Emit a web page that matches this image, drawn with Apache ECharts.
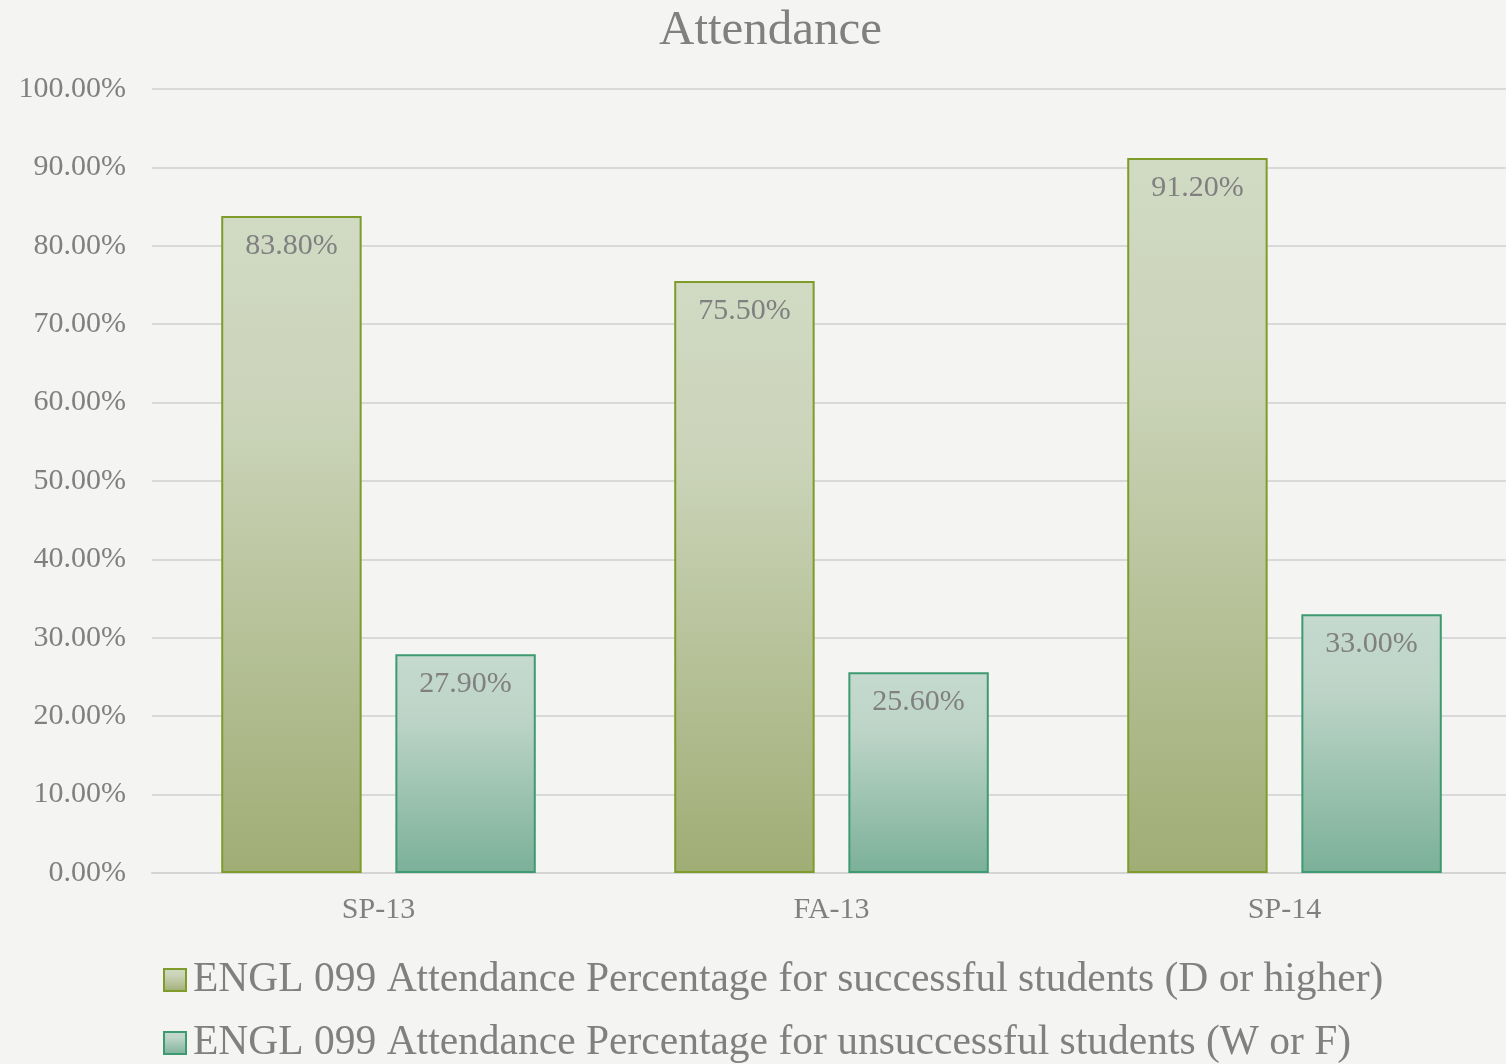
<!DOCTYPE html>
<html>
<head>
<meta charset="utf-8">
<script src="https://cdn.jsdelivr.net/npm/echarts@6/dist/echarts.min.js"></script>
<style>
  html, body { margin: 0; padding: 0; background: #f4f4f2; overflow: hidden; }
  #chart { width: 1520px; height: 1064px; }
</style>
</head>
<body>
<div id="chart"></div>
<script>
// Terms and attendance rates (percent)
const categories = ['SP-13', 'FA-13', 'SP-14'];
const successful = [83.8, 75.5, 91.2];
const unsuccessful = [27.9, 25.6, 33.0];
const seriesNames = [
  'ENGL 099 Attendance Percentage for successful students (D or higher)',
  'ENGL 099 Attendance Percentage for unsuccessful students (W or F)'
];
const yTicks = [0, 10, 20, 30, 40, 50, 60, 70, 80, 90, 100];

const FONT = '"Liberation Serif", "DejaVu Serif", serif';
const TEXT = '#808080';

function grad(top, mid, bottom) {
  return new echarts.graphic.LinearGradient(0, 0, 0, 1, [
    { offset: 0, color: top },
    { offset: 0.3, color: mid },
    { offset: 1, color: bottom }
  ]);
}

const label = {
  show: true,
  position: 'insideTop',
  distance: 15,
  color: TEXT,
  fontFamily: FONT,
  fontSize: 30,
  formatter: p => p.value.toFixed(2) + '%'
};

// one legend block per series, stacked as two rows
function legendRow(name, top) {
  return {
    left: 158,
    top: top,
    icon: 'rect',
    itemWidth: 22,
    itemHeight: 22,
    textStyle: { color: TEXT, fontFamily: FONT, fontSize: 41.5, padding: [0, 0, 0, 2] },
    data: [name]
  };
}

const chart = echarts.init(document.getElementById('chart'));
chart.setOption({
  backgroundColor: '#f4f4f2',
  animation: false,
  title: {
    text: 'Attendance',
    left: 654,
    top: 2,
    textStyle: { color: TEXT, fontFamily: FONT, fontSize: 49, fontWeight: 'normal' }
  },
  legend: [legendRow(seriesNames[0], 954), legendRow(seriesNames[1], 1017)],
  grid: { left: 152, right: 9, top: 89, bottom: 191, containLabel: false },
  xAxis: {
    type: 'category',
    data: categories,
    axisLine: { lineStyle: { color: '#d4d4d4', width: 2 } },
    axisTick: { show: false },
    axisLabel: { color: TEXT, fontFamily: FONT, fontSize: 30, margin: 22 }
  },
  yAxis: {
    type: 'value',
    min: yTicks[0],
    max: yTicks[yTicks.length - 1],
    interval: 10,
    axisLine: { show: false },
    axisTick: { show: false },
    splitLine: { lineStyle: { color: '#d9d9d9', width: 2 } },
    axisLabel: {
      color: TEXT, fontFamily: FONT, fontSize: 30, margin: 26,
      formatter: v => v.toFixed(2) + '%'
    }
  },
  series: [
    {
      name: seriesNames[0],
      type: 'bar',
      data: successful,
      barWidth: '31%',
      barGap: '24%',
      itemStyle: {
        color: grad('#d1dac3', '#cbd4b9', '#a0ad75'),
        borderColor: '#7f9b2a',
        borderWidth: 2
      },
      label
    },
    {
      name: seriesNames[1],
      type: 'bar',
      data: unsuccessful,
      barWidth: '31%',
      itemStyle: {
        color: grad('#c6dacf', '#bcd4c7', '#7bb099'),
        borderColor: '#3e9a70',
        borderWidth: 2
      },
      label
    }
  ]
});
</script>
</body>
</html>
